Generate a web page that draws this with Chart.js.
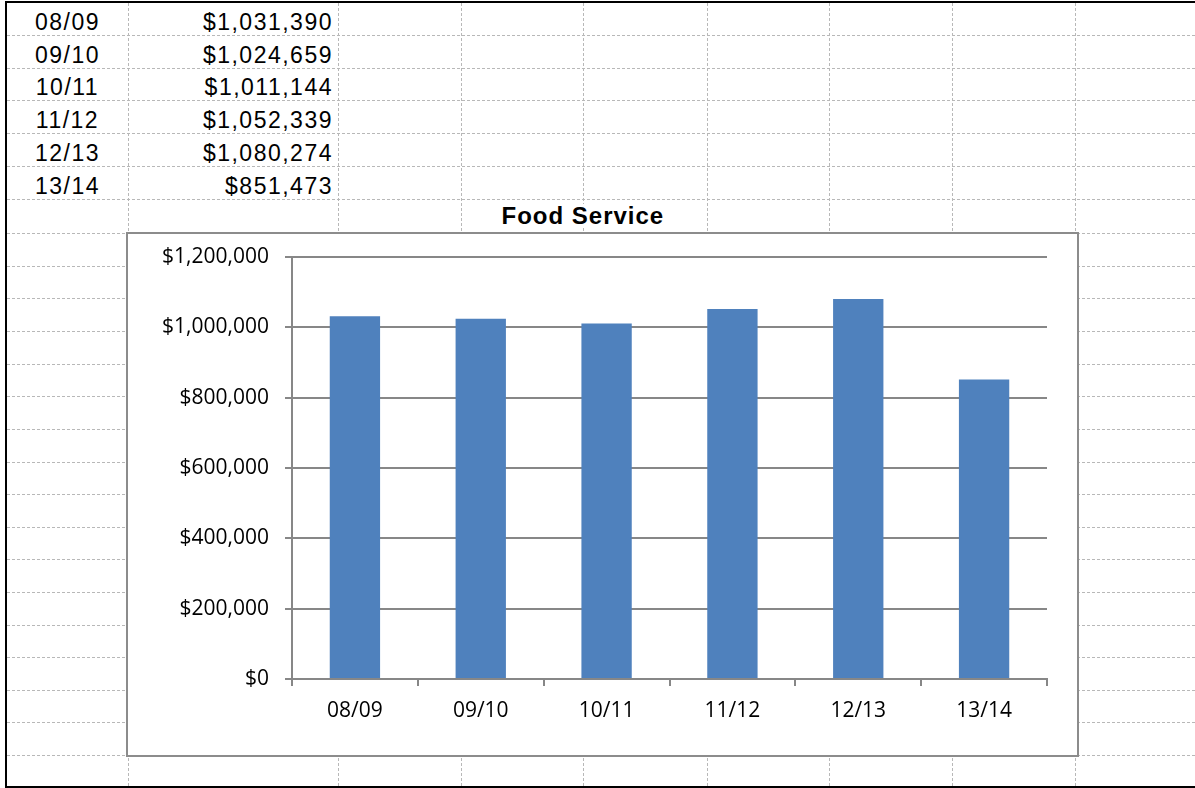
<!DOCTYPE html>
<html>
<head>
<meta charset="utf-8">
<script src="https://cdn.jsdelivr.net/npm/chart.js@4/dist/chart.umd.min.js"></script>
<style>
  html, body { margin: 0; padding: 0; background: #fff; }
  #sheet { position: relative; width: 1195px; height: 788px; overflow: hidden; background: #fff; }
  .hl { position: absolute; height: 0; border-top: 1px dashed #b8b8b8; }
  .vl { position: absolute; width: 0; border-left: 1px dashed #b8b8b8; }
  .edge { position: absolute; background: #000; }
  .cell { position: absolute; font-family: "Liberation Sans", Arial, sans-serif; font-size: 23px;
          letter-spacing: 1.5px; color: #000; white-space: nowrap; line-height: 23px; }
  #title { position: absolute; font-family: "Liberation Sans", Arial, sans-serif; font-weight: bold;
           font-size: 24px; letter-spacing: 1px; line-height: 24px; white-space: nowrap; background: #fff; }
  #frame { position: absolute; left: 126px; top: 232px; width: 949px; height: 521px;
           border: 2px solid #8c8c8c; background: #fff; }
  #frame canvas { display: block; }
</style>
</head>
<body>
<div id="sheet">
  <div id="frame"><canvas id="chart" width="949" height="521"></canvas></div>
</div>
<script>
// Fiscal years and food service totals
const years = ["08/09", "09/10", "10/11", "11/12", "12/13", "13/14"];
const foodService = [1031390, 1024659, 1011144, 1052339, 1080274, 851473];
const chartTitle = "Food Service";

// Sheet layout: cell boundaries
const rowLines = [35, 68, 100, 133, 166, 199, 233, 266, 298, 331, 364, 396, 429, 462, 494, 527, 559, 592, 625, 657, 690, 722, 755];
const colLines = [128, 338, 461, 583, 707, 829, 952, 1075];

const sheet = document.getElementById('sheet');
function addDiv(cls, css, text) {
  const d = document.createElement('div');
  d.className = cls;
  Object.assign(d.style, css);
  if (text !== undefined) d.textContent = text;
  sheet.insertBefore(d, sheet.firstChild);
  return d;
}

// horizontal cell lines
rowLines.forEach(y => {
  addDiv('hl', { left: '7px', top: y + 'px', width: '1188px' });
});
// vertical cell lines
colLines.forEach(x => {
  addDiv('vl', { left: x + 'px', top: '3px', height: '783px' });
});

// data table: year column centered, amount column right aligned, bottom aligned in rows
const money = v => '$' + v.toLocaleString('en-US');
years.forEach((yr, i) => {
  const bottom = rowLines[i];
  addDiv('cell', { left: '7px', width: '121px', textAlign: 'center', top: (bottom - 24) + 'px' }, yr);
  addDiv('cell', { left: '128px', width: '205px', textAlign: 'right', top: (bottom - 24) + 'px' }, money(foodService[i]));
});

// title sits in the row above the chart, overflowing across cells
const t = document.createElement('div');
t.id = 'title';
t.textContent = chartTitle;
sheet.appendChild(t);
t.style.top = (rowLines[6] - 29) + 'px';
t.style.left = (583 - t.offsetWidth / 2) + 'px';

// sheet border
addDiv('edge', { left: '5px', top: '1px', width: '1190px', height: '2px' });
addDiv('edge', { left: '5px', top: '1px', width: '2px', height: '787px' });
addDiv('edge', { left: '5px', top: '786px', width: '1190px', height: '2px' });

// keep the frame and title above the sheet lines
sheet.appendChild(document.getElementById('frame'));
sheet.appendChild(t);

const axisGray = '#878787';
const tickFont = { family: '"Open Sans", "Liberation Sans", sans-serif', size: 21 };

new Chart(document.getElementById('chart'), {
  type: 'bar',
  data: {
    labels: years,
    datasets: [{
      data: foodService,
      backgroundColor: '#4F81BD',
      borderWidth: 0,
      categoryPercentage: 1.0,
      barPercentage: 0.4
    }]
  },
  options: {
    responsive: false,
    animation: false,
    devicePixelRatio: 1,
    layout: { padding: { top: 23, right: 30, bottom: 0, left: 0 } },
    plugins: { legend: { display: false }, tooltip: { enabled: false }, title: { display: false } },
    scales: {
      x: {
        offset: true,
        grid: { offset: true, drawOnChartArea: false, drawTicks: true, tickLength: 7, color: axisGray, lineWidth: 2 },
        border: { display: true, color: axisGray, width: 2 },
        ticks: { color: '#000', font: tickFont, padding: 12, maxRotation: 0 },
        afterFit(scale) { scale.height = 76; scale.paddingLeft = 0; scale.paddingRight = 0; }
      },
      y: {
        min: 0,
        max: 1200000,
        grid: { color: axisGray, lineWidth: 2, drawTicks: true, tickLength: 7 },
        border: { display: true, color: axisGray, width: 2 },
        ticks: {
          stepSize: 200000,
          color: '#000',
          font: tickFont,
          padding: 16,
          callback: v => money(v)
        },
        afterFit(scale) { scale.width = 164; scale.paddingTop = 0; scale.paddingBottom = 0; }
      }
    }
  }
});
</script>
</body>
</html>
